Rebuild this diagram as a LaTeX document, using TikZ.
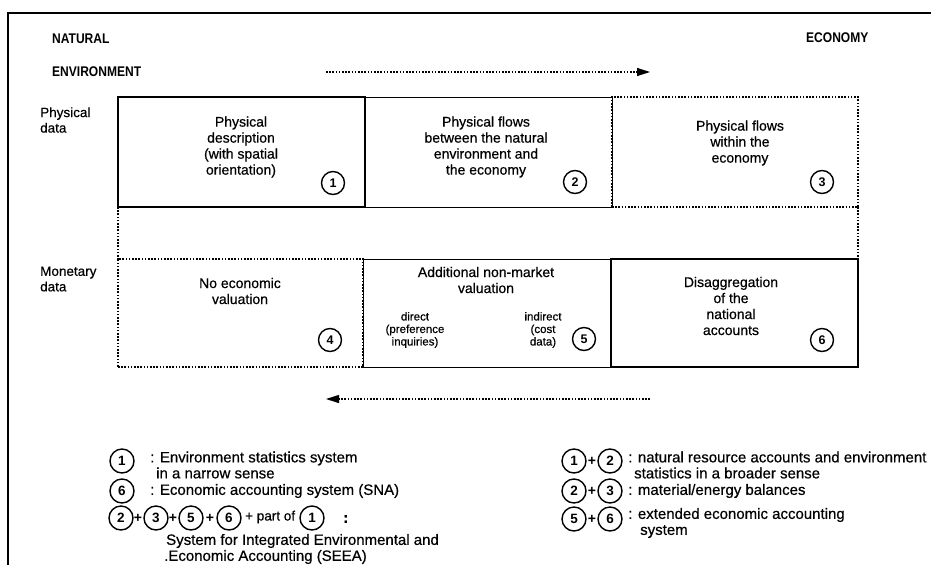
\documentclass[tikz,border=0pt]{standalone}
\usepackage{fontspec}
\setmainfont{Liberation Sans}
\newfontfamily\medfont{Liberation Sans}[FakeBold=0.5]
\newfontfamily\headfont{Liberation Sans Bold}[FakeStretch=0.86]
\usetikzlibrary{arrows.meta}
\newcommand{\fsz}[2]{\fontsize{#1}{#2}\selectfont}
\begin{document}
\begin{tikzpicture}[x=1pt,y=-1pt,
  txt/.style={inner sep=0pt, align=center, font=\medfont\fsz{14}{16}},
  side/.style={inner sep=0pt, align=left, anchor=west, font=\medfont\fsz{13.5}{15.5}},
  head/.style={inner sep=0pt, anchor=west, font=\headfont\fsz{14}{15}},
  small/.style={inner sep=0pt, align=center, font=\medfont\fsz{11.5}{12.5}},
  leg/.style={inner sep=0pt, align=left, anchor=west, font=\medfont\fsz{15}{16}},
  plus/.style={inner sep=0pt, font=\bfseries\fsz{14}{14}},
  num/.style={circle, draw, line width=1.4pt, minimum size=23pt, inner sep=0pt, font=\bfseries\fsz{12.5}{12.5}},
  bignum/.style={num, minimum size=24pt, font=\bfseries\fsz{13.5}{13.5}},
  cell/.style={rectangle, inner sep=0pt, outer sep=0pt, minimum height=110pt},
  thickcell/.style={cell, draw, line width=2.6pt},
  thincell/.style={cell, draw, line width=1pt},
  dotcell/.style={cell, draw, line width=1.1pt, dash pattern=on 1.6pt off 1.6pt},
  dotline/.style={line width=1.1pt, dash pattern=on 1.6pt off 1.6pt},
  flow/.style={dotline, -{Triangle[length=13pt,width=8pt]}},
  frame/.style={line width=1.4pt}]
\useasboundingbox (0,0) rectangle (931,565);

% outer frame (left and top edges)
\draw[frame] (8,565) -- (8,13) -- (931,13);

% headings and direction arrow
\node[head] (h1) at (52,39) {NATURAL};
\node[head] (h2) at (52,72) {ENVIRONMENT};
\node[head] (h3) at (806,38) {ECONOMY};
\coordinate (fwdL) at (326,72);
\coordinate (fwdR) at (650,72);
\draw[flow] (fwdL) -- (fwdR);

% row labels
\node[side] (lp) at (40,120) {Physical\\data};
\node[side] (lm) at (40,279) {Monetary\\data};

% physical row
\node[dotcell, minimum width=246pt] (c3) at (735,152) {};
\node[thincell, minimum width=247pt] (c2) at (488.5,152) {};
\node[thickcell, minimum width=247pt] (c1) at (241.5,152) {};
% monetary row
\node[dotcell, minimum width=245pt, minimum height=108pt] (c4) at (240.5,313) {};
\node[thincell, minimum width=248pt, minimum height=108pt] (c5) at (487,313) {};
\node[thickcell, minimum width=247pt, minimum height=108pt] (c6) at (734.5,313) {};
% dotted sides of the band between the rows
\draw[dotline] (c1.south west) -- (c4.north west);
\draw[dotline] (c3.south east) -- (c6.north east);

% cell contents
\node[txt] (t1) at (241,147) {Physical\\description\\(with spatial\\orientation)};
\node[num] (n1) at (333,183) {1};
\node[txt] (t2) at (486,147) {Physical flows\\between the natural\\environment and\\the economy};
\node[num] (n2) at (575,182) {2};
\node[txt] (t3) at (740,143) {Physical flows\\within the\\economy};
\node[num] (n3) at (822,182) {3};
\node[txt] (t4) at (240,291) {No economic\\valuation};
\node[num] (n4) at (330,340) {4};
\node[txt] (t5) at (486,280) {Additional non-market\\valuation};
\node[small] (t5a) at (415,330) {direct\\(preference\\inquiries)};
\node[small] (t5b) at (543,330) {indirect\\(cost\\data)};
\node[num] (n5) at (584,339) {5};
\node[txt] (t6) at (731,306) {Disaggregation\\of the\\national\\accounts};
\node[num] (n6) at (822,340) {6};

% backward arrow
\coordinate (bwdR) at (650,399);
\coordinate (bwdL) at (326,399);
\draw[flow] (bwdR) -- (bwdL);

% legend, left column
\node[bignum] (a1) at (122,461) {1};
\node[leg] (la1) at (150,465) {: Environment statistics system\\\hspace*{6pt}in a narrow sense};
\node[bignum] (a6) at (122,491) {6};
\node[leg] (la6) at (150,491) {: Economic accounting system (SNA)};
\node[bignum] (s2) at (121,518) {2};
\node[plus] (p1) at (138,518) {+};
\node[bignum] (s3) at (156,518) {3};
\node[plus] (p2) at (173,518) {+};
\node[bignum] (s5) at (191,518) {5};
\node[plus] (p3) at (210,518) {+};
\node[bignum] (s6) at (229,518) {6};
\node[leg, font=\medfont\fsz{13.5}{14}] (po) at (245,517) {+ part of};
\node[bignum] (s1) at (312,518) {1};
\node[leg] (co) at (343,519) {\textbf{:}};
\node[leg] (la7) at (164,549) {\hspace*{2pt}System for Integrated Environmental and\\.Economic Accounting (SEEA)};

% legend, right column
\node[bignum] (b1) at (574,461) {1};
\node[plus] (q1) at (592,461) {+};
\node[bignum] (b2) at (610,461) {2};
\node[leg] (lb1) at (628,465) {: natural resource accounts and environment\\\hspace*{6pt}statistics in a broader sense};
\node[bignum] (b3) at (574,491) {2};
\node[plus] (q2) at (592,491) {+};
\node[bignum] (b4) at (610,491) {3};
\node[leg] (lb2) at (628,491) {: material/energy balances};
\node[bignum] (b5) at (574,519) {5};
\node[plus] (q3) at (592,519) {+};
\node[bignum] (b6) at (610,519) {6};
\node[leg] (lb3) at (628,523) {: extended economic accounting\\\hspace*{12pt}system};
\end{tikzpicture}
\end{document}
